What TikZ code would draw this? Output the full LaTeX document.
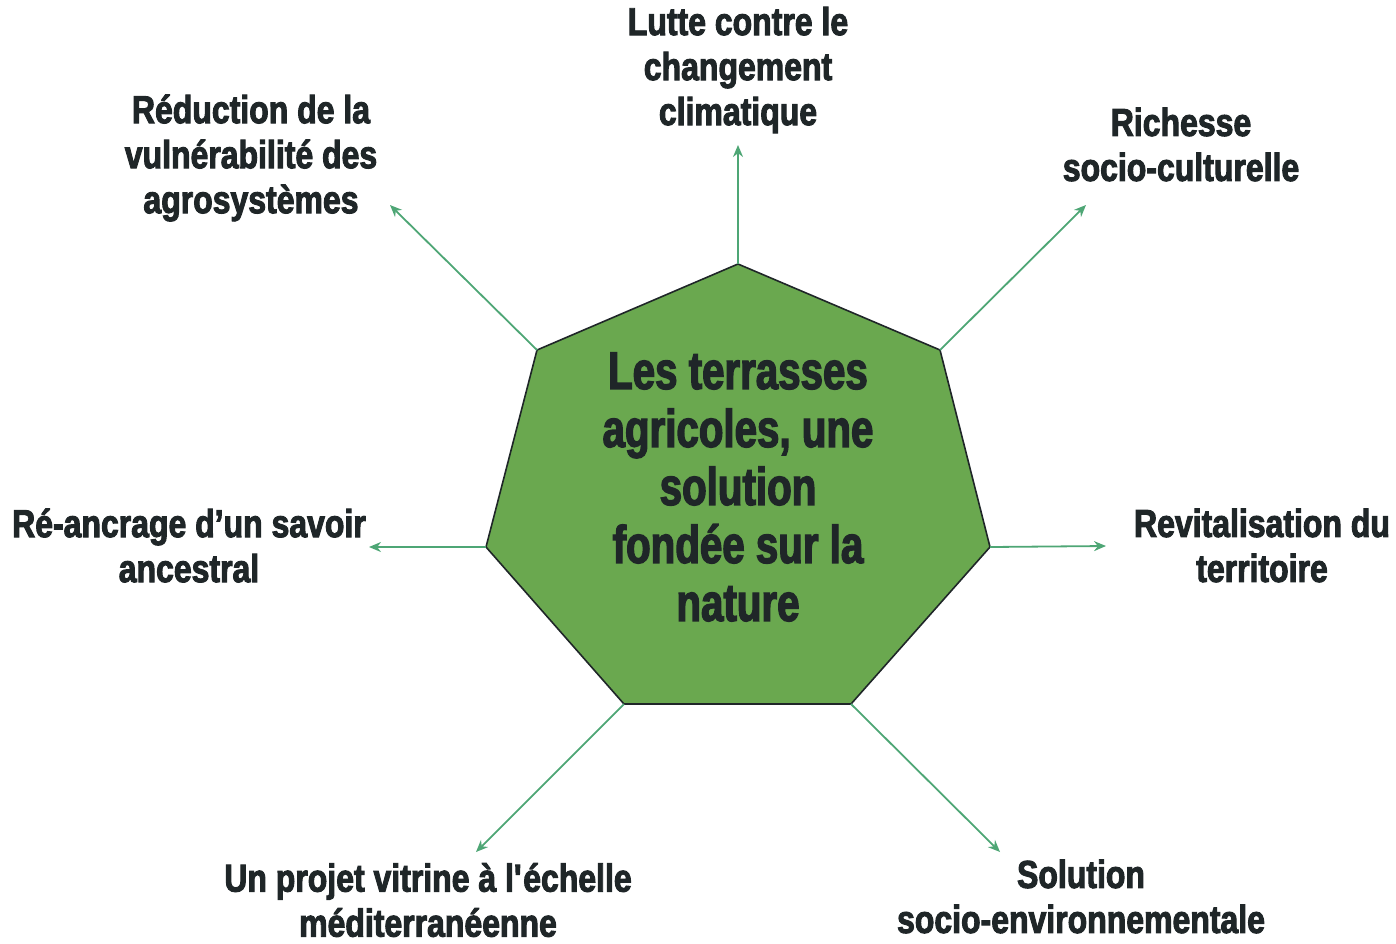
\documentclass[tikz,border=0pt]{standalone}
\usepackage{fontspec}
\usetikzlibrary{arrows.meta}
\newfontfamily\labfont{Liberation Sans}[FakeStretch=0.82, BoldFeatures={FakeStretch=0.82, FakeBold=2.5}]
\newfontfamily\ctrfont{Liberation Sans}[FakeStretch=0.76, BoldFeatures={FakeStretch=0.76, FakeBold=2.5}]
\definecolor{txt}{HTML}{1F2628}
\definecolor{hept}{HTML}{6AA84F}
\definecolor{arr}{HTML}{4EA675}
\tikzset{
  lab/.style={align=center, text=txt, font=\labfont\bfseries\fontsize{39}{45}\selectfont, inner sep=0pt},
  ctr/.style={align=center, text=txt, font=\ctrfont\bfseries\fontsize{53}{58}\selectfont, inner sep=0pt},
  conn/.style={draw=arr, line width=1.8pt, -{Stealth[length=12pt,width=10pt]}},
}
\begin{document}
\begin{tikzpicture}[x=1pt,y=-1pt]
\useasboundingbox (0,0) rectangle (1396,943);
\coordinate (v1) at (738,264);
\coordinate (v2) at (940,350);
\coordinate (v3) at (990,547);
\coordinate (v4) at (851,704);
\coordinate (v5) at (624,704);
\coordinate (v6) at (486,547);
\coordinate (v7) at (537,350);
\draw[fill=hept, draw=txt, line width=1.6pt, line join=miter] (v1) -- (v2) -- (v3) -- (v4) -- (v5) -- (v6) -- (v7) -- cycle;
\node[ctr] (c) at (738,487) {Les terrasses\\agricoles, une\\solution\\fondée sur la\\nature};
\coordinate (e1) at (738,145);
\coordinate (e2) at (1086,205);
\coordinate (e3) at (1106,546);
\coordinate (e4) at (1000,852);
\coordinate (e5) at (476,852);
\coordinate (e6) at (369,547);
\coordinate (e7) at (390,205);
\foreach \i in {1,...,7} {\draw[conn] (v\i) -- (e\i);}
\node[lab] (l1) at (738,70) {Lutte contre le\\changement\\climatique};
\node[lab] (l2) at (1181,144.5) {Richesse\\socio-culturelle};
\node[lab] (l3) at (1262,545.5) {Revitalisation du\\territoire};
\node[lab] (l4) at (1081,896.5) {Solution\\socio-environnementale};
\node[lab] (l5) at (428,900) {Un projet vitrine à l\textquotesingle échelle\\méditerranéenne};
\node[lab] (l6) at (189,545.5) {Ré-ancrage d’un savoir\\ancestral};
\node[lab] (l7) at (251,158) {Réduction de la\\vulnérabilité des\\agrosystèmes};
\end{tikzpicture}
\end{document}
